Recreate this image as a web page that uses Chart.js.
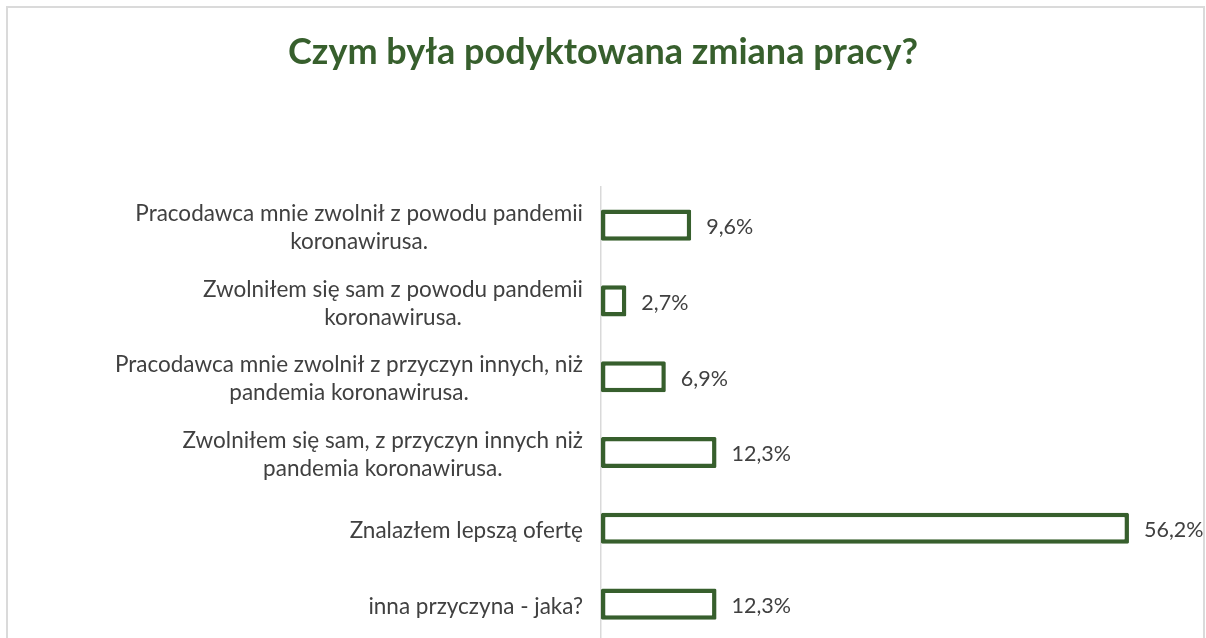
<!DOCTYPE html>
<html><head><meta charset="utf-8">
<script src="https://cdn.jsdelivr.net/npm/chart.js@4/dist/chart.umd.min.js"></script>
<style>
html,body{margin:0;padding:0;background:#fff;overflow:hidden;width:1206px;height:638px}
#frame{position:absolute;left:6px;top:6px;width:1199px;height:700px;border:2px solid #dadada;box-sizing:border-box}
#wrap{position:absolute;left:0;top:0;width:1206px;height:645px}
</style></head><body>
<div id="frame"></div>
<div id="wrap"><canvas id="c" width="1206" height="645"></canvas></div>
<script>
const chartTitle = "Czym była podyktowana zmiana pracy?";
const categories = [
  ["Pracodawca mnie zwolnił z powodu pandemii", "koronawirusa."],
  ["Zwolniłem się sam z powodu pandemii", "koronawirusa."],
  ["Pracodawca mnie zwolnił z przyczyn innych, niż", "pandemia koronawirusa."],
  ["Zwolniłem się sam, z przyczyn innych niż", "pandemia koronawirusa."],
  ["Znalazłem lepszą ofertę"],
  ["inna przyczyna - jaka?"]
];
const values = [9.6, 2.7, 6.9, 12.3, 56.2, 12.3];
const valueLabels = ["9,6%", "2,7%", "6,9%", "12,3%", "56,2%", "12,3%"];

const GREEN = '#375F2D';
const TEXT = '#404040';
const FONT = 'Lato, "Open Sans", sans-serif';
const LABEL_SIZE = 22.5;
const VALUE_SIZE = 21.5;

const labelPlugin = {
  id: 'labels',
  afterDatasetsDraw(chart) {
    const ctx = chart.ctx;
    const meta = chart.getDatasetMeta(0);
    ctx.save();
    ctx.fillStyle = TEXT;
    meta.data.forEach((el, i) => {
      // value label
      ctx.font = VALUE_SIZE + 'px ' + FONT;
      ctx.textAlign = 'left';
      ctx.textBaseline = 'middle';
      ctx.fillText(valueLabels[i], el.x + 15, el.y + 2);
      // category label (lines centered with each other, block right-aligned)
      ctx.font = LABEL_SIZE + 'px ' + FONT;
      const lines = categories[i];
      const maxW = Math.max(...lines.map(l => ctx.measureText(l).width));
      const cx = chart.chartArea.left - 18 - maxW / 2;
      ctx.textAlign = 'center';
      lines.forEach((l, j) => {
        const y = el.y + (j - (lines.length - 1) / 2) * 28 + 2.5;
        ctx.fillText(l, cx, y);
      });
    });
    ctx.restore();
  }
};

new Chart(document.getElementById('c'), {
  type: 'bar',
  data: {
    labels: categories,
    datasets: [{
      data: values,
      backgroundColor: '#ffffff',
      borderColor: GREEN,
      borderWidth: 4.5,
      borderSkipped: false,
      borderRadius: 1.5,
      barPercentage: 0.41,
      categoryPercentage: 1
    }]
  },
  options: {
    indexAxis: 'y',
    responsive: false,
    animation: false,
    devicePixelRatio: 1,
    layout: { padding: { left: 0, right: 0, top: 0, bottom: 3 } },
    plugins: {
      legend: { display: false },
      tooltip: { enabled: false },
      title: {
        display: true,
        text: chartTitle,
        color: GREEN,
        font: { family: FONT, size: 36, weight: 'bold' },
        padding: { top: 31, bottom: 113 }
      }
    },
    scales: {
      x: { display: false, min: 0, max: 64.4 },
      y: {
        grid: { display: false },
        border: { display: true, color: '#d9d9d9', width: 1.5 },
        ticks: { display: false },
        afterFit(scale) { scale.width = 601; }
      }
    }
  },
  plugins: [labelPlugin]
});
</script>
</body></html>
